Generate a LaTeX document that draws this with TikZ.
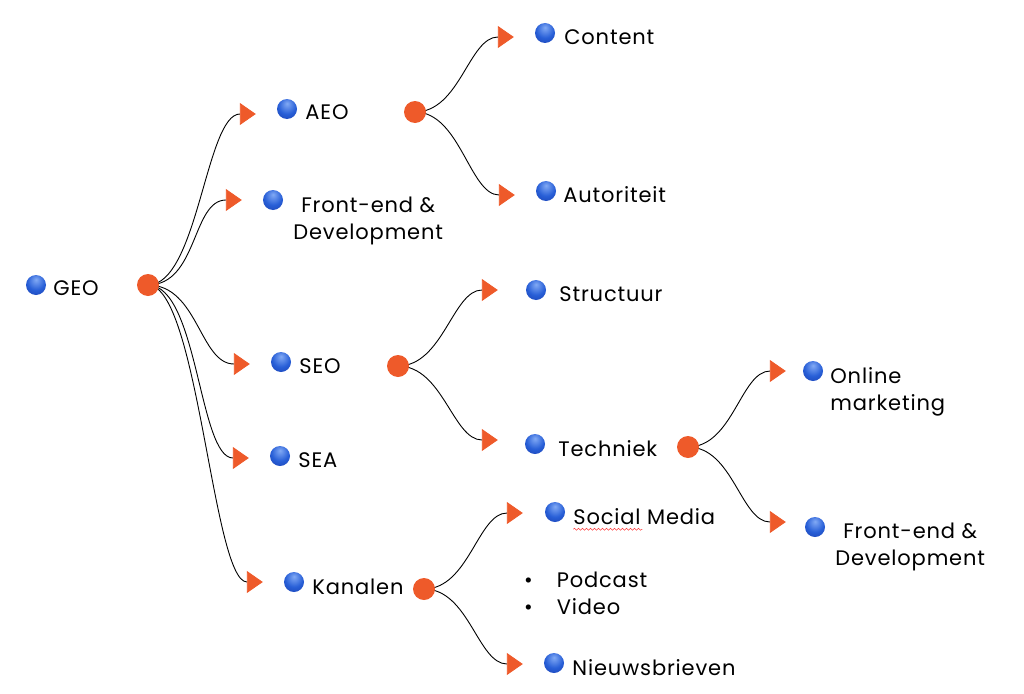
\documentclass[tikz,border=0pt]{standalone}
\usepackage{fontspec}
\setmainfont{Poppins}[LetterSpace=4]
\usepackage{tikz}
\usetikzlibrary{arrows.meta,positioning}
\usetikzlibrary{decorations.pathmorphing}
\definecolor{hubcol}{RGB}{238,90,42}
\definecolor{balllight}{RGB}{130,170,245}
\definecolor{ballmid}{RGB}{40,95,215}
\definecolor{balldark}{RGB}{20,50,160}
\pgfdeclareradialshading{blueball}{\pgfpoint{0bp}{14bp}}{color(0bp)=(balllight); color(22bp)=(ballmid); color(50bp)=(balldark); color(70bp)=(balldark)}

\tikzset{
	hub/.style={circle,fill=hubcol,minimum size=22pt,inner sep=0pt},
	ball/.style={circle,shading=blueball,minimum size=20pt,inner sep=0pt},
	lbl/.style={inner sep=0pt,font=\fontsize{21}{27}\selectfont,align=center},
	link/.style={line width=0.9pt,-{Triangle[length=16pt,width=22pt,color=hubcol]}},
}

\begin{document}
\begin{tikzpicture}[x=1pt,y=-1pt]
		\useasboundingbox (0,0) rectangle (1024,693);
		% root
		\node[ball] (geo) at (36,285) {};
		\node[lbl,right=7pt of geo,yshift=-3pt] (geo-t) {GEO};
		% first level
		\node[ball] (aeo) at (287,109) {};
		\node[lbl,right=8pt of aeo,yshift=-3pt] (aeo-t) {AEO};
		\node[ball] (fe1) at (273,200) {};
		\node[lbl,right=10pt of fe1,yshift=-21pt] (fe1-t) {Front-end \&\\Development};
		\node[ball] (seo) at (281,362) {};
		\node[lbl,right=8pt of seo,yshift=-4pt] (seo-t) {SEO};
		\node[ball] (sea) at (280,456) {};
		\node[lbl,right=8pt of sea,yshift=-4pt] (sea-t) {SEA};
		\node[ball] (kan) at (294,582) {};
		\node[lbl,right=8pt of kan,yshift=-5pt] (kan-t) {Kanalen};
		% second level
		\node[ball] (content) at (545,33) {};
		\node[lbl,right=9pt of content,yshift=-4pt] (content-t) {Content};
		\node[ball] (autor) at (546,191) {};
		\node[lbl,right=7pt of autor,yshift=-4pt] (autor-t) {Autoriteit};
		\node[ball] (struct) at (536,290) {};
		\node[lbl,right=13pt of struct,yshift=-4pt] (struct-t) {Structuur};
		\node[ball] (tech) at (535,444) {};
		\node[lbl,right=13pt of tech,yshift=-5pt] (tech-t) {Techniek};
		\node[ball] (social) at (555,512) {};
		\node[lbl,right=8pt of social,yshift=-5pt] (social-t) {Social Media};
		\node[lbl,anchor=west,align=left] (media-list) at (524,596)
			{\begin{tabular}{@{}l@{\hspace{24pt}}l@{}}\textbullet & Podcast\\ \textbullet & Video\end{tabular}};
		\node[ball] (news) at (554,663) {};
		\node[lbl,right=8pt of news,yshift=-5pt] (news-t) {Nieuwsbrieven};
		% third level
		\node[ball] (online) at (813,371) {};
		\node[lbl,right=7pt of online,yshift=-21pt,align=left] (online-t) {Online\\marketing};
		\node[ball] (fe2) at (815,527) {};
		\node[lbl,right=10pt of fe2,yshift=-20pt] (fe2-t) {Front-end \&\\Development};
		% spelling mark
		\draw[red!75,line width=0.5pt,decorate,decoration={snake,amplitude=1pt,segment length=4pt}]
			([yshift=-4pt]social-t.south west) -- ([xshift=-73pt,yshift=-4pt]social-t.south east);
		% connectors
		\draw[link] (148,285) coordinate (geo-h) .. controls +(50,0) and +(-50,0) .. ([xshift=-21pt,yshift=-5pt]aeo.west);
		\draw[link] (geo-h) .. controls +(50,0) and +(-50,0) .. ([xshift=-21pt,yshift=0pt]fe1.west);
		\draw[link] (geo-h) .. controls +(50,0) and +(-50,0) .. ([xshift=-21pt,yshift=-2pt]seo.west);
		\draw[link] (geo-h) .. controls +(50,0) and +(-50,0) .. ([xshift=-21pt,yshift=-2pt]sea.west);
		\draw[link] (geo-h) .. controls +(50,0) and +(-50,0) .. ([xshift=-21pt,yshift=0pt]kan.west);
		\draw[link] (415,112) coordinate (aeo-h) .. controls +(45,0) and +(-45,0) .. ([xshift=-21pt,yshift=-4pt]content.west);
		\draw[link] (aeo-h) .. controls +(45,0) and +(-45,0) .. ([xshift=-21pt,yshift=-4pt]autor.west);
		\draw[link] (398,366) coordinate (seo-h) .. controls +(45,0) and +(-45,0) .. ([xshift=-28pt,yshift=0pt]struct.west);
		\draw[link] (seo-h) .. controls +(45,0) and +(-45,0) .. ([xshift=-27pt,yshift=4pt]tech.west);
		\draw[link] (688,447) coordinate (tech-h) .. controls +(45,0) and +(-45,0) .. ([xshift=-17pt,yshift=0pt]online.west);
		\draw[link] (tech-h) .. controls +(45,0) and +(-45,0) .. ([xshift=-19pt,yshift=5pt]fe2.west);
		\draw[link] (424,589) coordinate (kan-h) .. controls +(45,0) and +(-45,0) .. ([xshift=-22pt,yshift=-1pt]social.west);
		\draw[link] (kan-h) .. controls +(45,0) and +(-45,0) .. ([xshift=-21pt,yshift=-1pt]news.west);
		% hubs
		\node[hub] at (geo-h) {};
		\node[hub] at (aeo-h) {};
		\node[hub] at (seo-h) {};
		\node[hub] at (tech-h) {};
		\node[hub] at (kan-h) {};
\end{tikzpicture}
\end{document}
